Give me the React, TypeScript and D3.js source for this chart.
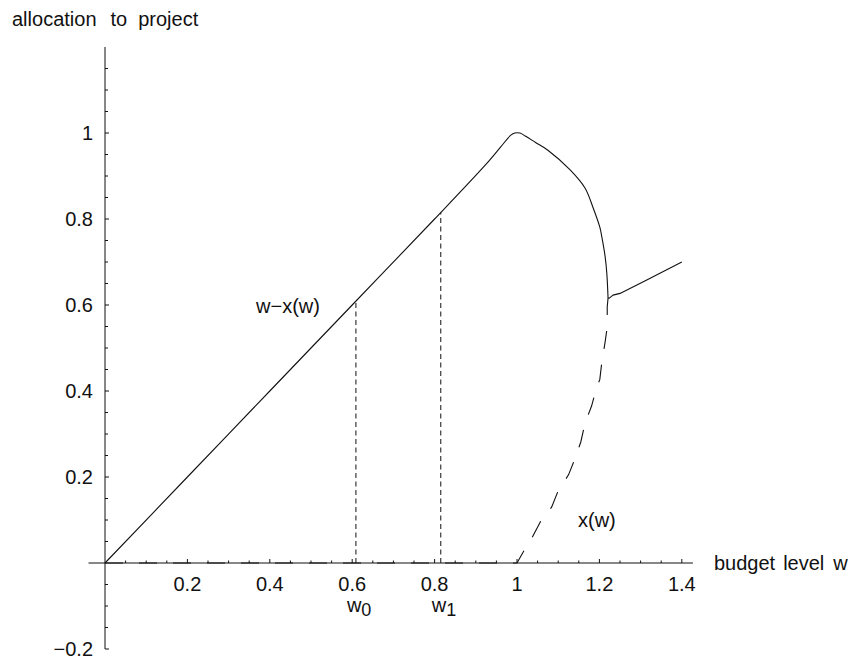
import React from "react";
import * as d3 from "d3";

// Budget level w against the amount allocated to the project.
const remainderCurve: [number, number][] = [
  [0, 0], [0.2, 0.2], [0.4, 0.4], [0.6, 0.6], [0.8, 0.8],
  [0.93, 0.933], [0.96, 0.967], [0.985, 0.995], [0.995, 1.0], [1.007, 1.0],
  [1.02, 0.993], [1.045, 0.978], [1.075, 0.96], [1.129, 0.914], [1.165, 0.872],
  [1.184, 0.828], [1.201, 0.781], [1.206, 0.758], [1.214, 0.712], [1.218, 0.674],
  [1.221, 0.616], [1.224, 0.616], [1.233, 0.623], [1.25, 0.627], [1.315, 0.658],
  [1.4, 0.7],
];

const projectCurve: [number, number][] = [
  [0, 0], [1, 0], [1.019, 0.032], [1.037, 0.06], [1.058, 0.098], [1.084, 0.13],
  [1.1, 0.168], [1.125, 0.205], [1.141, 0.243], [1.155, 0.282], [1.165, 0.325],
  [1.181, 0.365], [1.192, 0.404], [1.201, 0.427], [1.206, 0.468], [1.214, 0.515],
  [1.218, 0.542], [1.219, 0.553], [1.219, 0.596], [1.221, 0.616],
];

// w at which the remainder curve turns from the arc into the rising branch
const branchPoint = 1.221;

const markerLevels = [
  { w: 0.609, sub: "0" },
  { w: 0.815, sub: "1" },
];

const xTickValues = [0.2, 0.4, 0.6, 0.8, 1, 1.2, 1.4];
const xTickLabels = ["0.2", "0.4", "0.6", "0.8", "1", "1.2", "1.4"];
const yTickValues = [-0.2, 0.2, 0.4, 0.6, 0.8, 1];
const yTickLabels = ["\u22120.2", "0.2", "0.4", "0.6", "0.8", "1"];

const FONT = "'Liberation Sans', Arial, Helvetica, sans-serif";

export default function App() {
  const width = 856;
  const height = 664;

  const x = d3.scaleLinear().domain([0, 1]).range([105, 517]);
  const y = d3.scaleLinear().domain([0, 1]).range([563, 133]);

  const xDomain: [number, number] = [-0.04, 1.427];
  const yDomain: [number, number] = [-0.2, 1.2];

  const smooth = d3
    .line<[number, number]>()
    .x((d) => x(d[0]))
    .y((d) => y(d[1]))
    .curve(d3.curveCatmullRom.alpha(0.5));
  const straight = d3
    .line<[number, number]>()
    .x((d) => x(d[0]))
    .y((d) => y(d[1]));

  const arcPart = remainderCurve.filter((d) => d[0] <= branchPoint);
  const risePart = remainderCurve.filter((d) => d[0] >= branchPoint);
  const remainderPath = (smooth(arcPart) ?? "") + (straight(risePart) ?? "");

  const minorX = d3.range(1, 29).map((i) => i * 0.05);
  const minorY = d3.range(-4, 24).map((i) => i * 0.05).filter((v) => Math.abs(v) > 1e-9);

  const valueAt = (w: number) => {
    const i = d3.bisector((d: [number, number]) => d[0]).left(remainderCurve, w);
    const a = remainderCurve[i - 1];
    const b = remainderCurve[i];
    return a[1] + ((w - a[0]) / (b[0] - a[0])) * (b[1] - a[1]);
  };

  const isMajor = (v: number, majors: number[]) => majors.some((m) => Math.abs(m - v) < 1e-6);

  return (
    <svg
      width={width}
      height={height}
      style={{ position: "absolute", left: 0, top: 0, display: "block", background: "#fff" }}
      fontFamily={FONT}
    >
      {/* axes */}
      <g stroke="#111" strokeWidth={1} fill="none">
        <line x1={x(xDomain[0])} x2={x(xDomain[1])} y1={y(0)} y2={y(0)} />
        <line x1={x(0)} x2={x(0)} y1={y(yDomain[0])} y2={y(yDomain[1])} />
        {minorX.map((v, i) => (
          <line
            key={"mx" + i}
            x1={x(v)}
            x2={x(v)}
            y1={y(0)}
            y2={y(0) - (isMajor(v, xTickValues) ? 4 : 2.5)}
          />
        ))}
        {minorY.map((v, i) => (
          <line
            key={"my" + i}
            x1={x(0)}
            x2={x(0) + (isMajor(v, yTickValues) ? 4 : 3)}
            y1={y(v)}
            y2={y(v)}
          />
        ))}
      </g>

      {/* tick labels */}
      <g fontSize={20} fill="#111">
        {xTickValues.map((v, i) => (
          <text key={"xl" + i} x={x(v)} y={y(0) + 28} textAnchor="middle">
            {xTickLabels[i]}
          </text>
        ))}
        {yTickValues.map((v, i) => (
          <text key={"yl" + i} x={x(0) - 12} y={y(v) + 7} textAnchor="end">
            {yTickLabels[i]}
          </text>
        ))}
      </g>

      {/* vertical markers at w0 and w1 */}
      <g stroke="#111" strokeWidth={1} strokeDasharray="5,3.5" fill="none">
        {markerLevels.map((m, i) => (
          <line key={"ml" + i} x1={x(m.w)} x2={x(m.w)} y1={y(0)} y2={y(valueAt(m.w))} />
        ))}
      </g>
      <g fontSize={20} fill="#111">
        {markerLevels.map((m, i) => (
          <text key={"mt" + i} x={x(m.w) - 9} y={y(0) + 49}>
            w
            <tspan fontSize={18} dy={4}>
              {m.sub}
            </tspan>
          </text>
        ))}
      </g>

      {/* curves */}
      <path d={straight(projectCurve) ?? ""} fill="none" stroke="#111" strokeWidth={1.1} strokeDasharray="18,16" />
      <path d={remainderPath} fill="none" stroke="#111" strokeWidth={1.1} strokeLinejoin="round" />

      {/* curve labels */}
      <g fontSize={20} fill="#111">
        <text x={256} y={313}>w{"\u2212"}x(w)</text>
        <text x={578} y={527}>x(w)</text>
      </g>

      {/* axis titles */}
      <g fontSize={20} fill="#111">
        <text x={12} y={26}>
          allocation
          <tspan dx={14}>to</tspan>
          <tspan dx={11}>project</tspan>
        </text>
        <text x={714} y={570}>
          budget
          <tspan dx={8}>level</tspan>
          <tspan dx={9}>w</tspan>
        </text>
      </g>
    </svg>
  );
}
